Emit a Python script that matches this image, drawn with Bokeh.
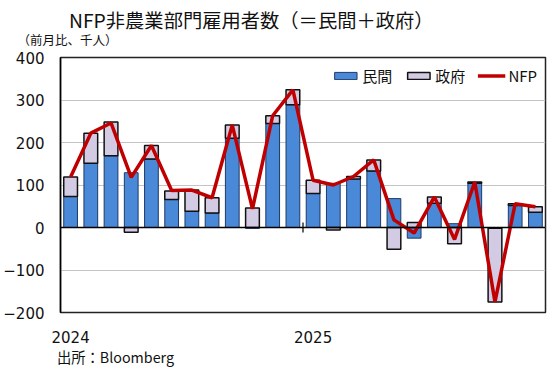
from bokeh.plotting import figure
from bokeh.layouts import column
from bokeh.models import (ColumnDataSource, Legend, LegendItem, Span, Range1d,
                          FixedTicker, LinearAxis, SingleIntervalTicker)
from bokeh.core.properties import value
from bokeh.embed import file_html
from bokeh.resources import INLINE

months = ["2024-01", "2024-02", "2024-03", "2024-04", "2024-05", "2024-06",
          "2024-07", "2024-08", "2024-09", "2024-10", "2024-11", "2024-12",
          "2025-01", "2025-02", "2025-03", "2025-04", "2025-05", "2025-06",
          "2025-07", "2025-08", "2025-09", "2025-10", "2025-11", "2025-12"]
private = [73, 151, 169, 129, 161, 66, 38, 34, 210, -2, 245, 289,
           80, 104, 114, 133, 68, -25, 57, 9, 104, -2, 52, 36]
government = [46, 71, 79, -11, 32, 20, 50, 36, 31, 46, 18, 35,
              31, -6, 6, 26, -51, 12, 15, -38, 3, -173, 4, 13]
nfp = [119, 222, 246, 118, 193, 87, 88, 70, 241, 44, 263, 324,
       111, 100, 120, 159, 18, -13, 72, -28, 107, -175, 56, 49]
year_labels = ["2024", "2025"]
title_text = "NFP非農業部門雇用者数（＝民間＋政府）"
unit_text = "（前月比、千人）"
source_text = "出所：Bloomberg"

JP = "Noto Sans CJK JP"
NUM = "DejaVu Sans"
FW, FH = 485, 255

# ---------- header (title + unit) ----------
HF = 29
head = figure(frame_width=FW, frame_height=HF, x_range=Range1d(0, FW), y_range=Range1d(HF, 0),
              output_backend="svg", toolbar_location=None,
              x_axis_location=None, y_axis_location=None,
              min_border_left=0, min_border_right=0, min_border_top=0, min_border_bottom=0)
head.grid.visible = False
head.outline_line_color = None
head.text(x=[8.5], y=[19], text=[title_text], text_font=value(JP), text_font_size="19.3px",
          text_color="#111111", text_baseline="middle", text_align="left")
ua = LinearAxis(ticker=FixedTicker(ticks=[7]), major_label_overrides={7: unit_text})
ua.axis_line_color = None
ua.major_tick_line_color = None
ua.minor_tick_line_color = None
ua.major_tick_out = 0
ua.major_label_standoff = 0
ua.major_label_text_font = JP
ua.major_label_text_font_size = "12.5px"
ua.major_label_text_color = "#111111"
head.add_layout(ua, "below")

# ---------- main chart ----------
x = list(range(1, len(months) + 1))
gov_bottom = [p if (p >= 0) == (g >= 0) else 0 for p, g in zip(private, government)]
gov_top = [b + g for b, g in zip(gov_bottom, government)]

src = ColumnDataSource(dict(x=x, private=private, zero=[0] * len(x),
                            gb=gov_bottom, gt=gov_top, nfp=nfp))

year_pos = [x[months.index(y + "-01")] for y in year_labels]
boundary = [pos - 0.5 for pos in year_pos[1:]]

p = figure(frame_width=FW, frame_height=FH, x_range=(0.5, len(x) + 0.5), y_range=(-200, 400),
           output_backend="svg", toolbar_location=None, x_axis_location=None,
           min_border_left=48, min_border_right=6, min_border_top=6, min_border_bottom=56)
p.extra_x_ranges = {"px": Range1d(0, FW)}

r_priv = p.vbar(x="x", bottom="zero", top="private", width=0.68, source=src,
                fill_color="#4A88D8", line_color="#1F3A66", line_width=1)
r_gov = p.vbar(x="x", bottom="gb", top="gt", width=0.68, source=src,
               fill_color="#D3CBE3", line_color="#111111", line_width=1.5)
r_line = p.line(x="x", y="nfp", source=src, line_color="#C00000", line_width=3.5)

p.add_layout(Span(location=0, dimension="width", line_color="black", line_width=1.5))
p.segment(x0=boundary, x1=boundary, y0=[-12] * len(boundary), y1=[12] * len(boundary),
          line_color="black", line_width=1.2)

# y axis
p.yaxis.ticker = SingleIntervalTicker(interval=100)
p.yaxis.major_tick_out = 0
p.yaxis.major_tick_in = 0
p.yaxis.minor_tick_line_color = None
p.yaxis.axis_line_color = "black"
p.yaxis.axis_line_width = 1.5
p.yaxis.major_label_text_font = NUM
p.yaxis.major_label_text_font_size = "15px"
p.yaxis.major_label_text_color = "#111111"
p.yaxis.major_label_standoff = 12

p.xgrid.visible = False
p.ygrid.grid_line_color = "#C4C4C4"
p.ygrid.grid_line_width = 1.2
p.outline_line_color = "#222222"
p.outline_line_width = 1.5

# year axis
xa = LinearAxis(ticker=FixedTicker(ticks=year_pos),
                major_label_overrides={pos: lab for pos, lab in zip(year_pos, year_labels)})
xa.axis_line_color = None
xa.major_tick_line_color = None
xa.minor_tick_line_color = None
xa.major_tick_out = 0
xa.major_label_text_font = NUM
xa.major_label_text_font_size = "15px"
xa.major_label_text_color = "#111111"
xa.major_label_standoff = 18
p.add_layout(xa, "below")

# source note
sa = LinearAxis(x_range_name="px", ticker=FixedTicker(ticks=[55]),
                major_label_overrides={55: source_text})
sa.axis_line_color = None
sa.major_tick_line_color = None
sa.minor_tick_line_color = None
sa.major_tick_out = 0
sa.major_label_standoff = 0
sa.major_label_text_font = JP
sa.major_label_text_font_size = "14.3px"
sa.major_label_text_color = "#111111"
p.add_layout(sa, "below")

legend = Legend(items=[LegendItem(label="民間", renderers=[r_priv]),
                       LegendItem(label="政府", renderers=[r_gov]),
                       LegendItem(label="NFP", renderers=[r_line])],
                location="top_right", orientation="horizontal")
legend.border_line_alpha = 0
legend.background_fill_alpha = 0
legend.label_text_font = JP
legend.label_text_font_size = "15px"
legend.label_text_color = "#111111"
legend.glyph_width = 28
legend.glyph_height = 9
legend.spacing = 12
legend.label_standoff = 3
legend.margin = 6
legend.padding = 2
p.add_layout(legend)

layout = column(head, p, spacing=0)
open("out.html", "w").write(file_html(layout, INLINE))
